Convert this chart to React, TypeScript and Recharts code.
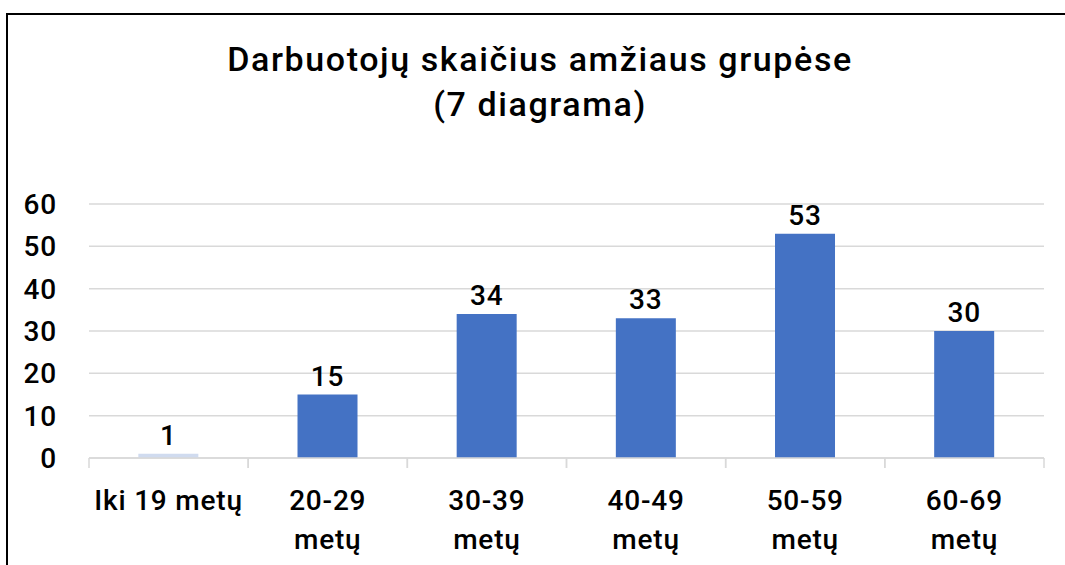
import React from 'react';
import { BarChart, Bar, XAxis, YAxis, CartesianGrid, LabelList, Cell } from 'recharts';

const categories = ['Iki 19 metų', '20-29 metų', '30-39 metų', '40-49 metų', '50-59 metų', '60-69 metų'];
const tickLabels = ['Iki 19 metų', '20-29\nmetų', '30-39\nmetų', '40-49\nmetų', '50-59\nmetų', '60-69\nmetų'];
const values = [1, 15, 34, 33, 53, 30];
const yTicks = [0, 10, 20, 30, 40, 50, 60];
const titleLines = ['Darbuotojų skaičius amžiaus grupėse', '(7 diagrama)'];

const data = categories.map((c, i) => ({ name: c, label: tickLabels[i], value: values[i] }));

const FONT = 'Roboto, "Noto Sans", sans-serif';
const BAR = '#4472c4';
const FIRST_BAR = '#d0dbef';
const GRID = '#d9d9d9';

const XTick = (props: any) => {
  const { x, y, payload, width, visibleTicksCount } = props;
  const half = payload && typeof payload.offset === 'number' && payload.offset > 0
    ? payload.offset
    : width / ((visibleTicksCount || categories.length) * 2);
  const lines = String(payload.value).split('\n');
  return (
    <g>
      <line x1={x - half} x2={x - half} y1={y} y2={y + 10} stroke={GRID} strokeWidth={1.5} />
      <line x1={x + half} x2={x + half} y1={y} y2={y + 10} stroke={GRID} strokeWidth={1.5} />
      <text x={x} y={y} textAnchor="middle" fill="#000" fontFamily={FONT} fontWeight={500} fontSize={28} letterSpacing={0.8}>
        {lines.map((l, i) => (
          <tspan key={i} x={x} dy={i === 0 ? 52 : 39}>{l}</tspan>
        ))}
      </text>
    </g>
  );
};

export default function App() {
  return (
    <div style={{ position: 'absolute', left: 0, top: 0, width: 1065, height: 565, overflow: 'hidden', background: '#fff' }}>
      <style>{`html,body{margin:0;padding:0;overflow:hidden;background:#fff}`}</style>
      <div style={{ position: 'absolute', left: 6, top: 13, width: 1059, height: 552, borderLeft: '2px solid #000', borderTop: '2px solid #000', boxSizing: 'border-box' }} />
      <div style={{ position: 'absolute', left: 0, top: 37, width: 1080, textAlign: 'center', fontFamily: FONT, fontWeight: 500, fontSize: 34, letterSpacing: 1.6, lineHeight: '45px', color: '#000' }}>
        {titleLines.map((t, i) => <div key={i}>{t}</div>)}
      </div>
      <div style={{ position: 'absolute', left: 0, top: 0 }}>
        <BarChart width={1065} height={565} data={data} margin={{ top: 204, right: 21, left: 0, bottom: 0 }} barCategoryGap="31%">
          <CartesianGrid vertical={false} stroke={GRID} strokeWidth={1.5} />
          <XAxis dataKey="label" tick={<XTick />} tickLine={false} axisLine={{ stroke: GRID, strokeWidth: 1.5 }} tickSize={0} tickMargin={0} interval={0} height={107} />
          <YAxis width={89} domain={[0, 60]} ticks={yTicks} interval={0} axisLine={false} tickLine={false} tickSize={6} tickMargin={26} tick={{ fill: '#000', fontFamily: FONT, fontWeight: 500, fontSize: 28, letterSpacing: 0.8 }} />
          <Bar dataKey="value" fill={BAR} isAnimationActive={false}>
            {data.map((d, i) => <Cell key={i} fill={i === 0 ? FIRST_BAR : BAR} />)}
            <LabelList dataKey="value" position="top" offset={9} fill="#000" fontFamily={FONT} fontWeight={500} fontSize={28} letterSpacing={0.8} />
          </Bar>
        </BarChart>
      </div>
    </div>
  );
}
